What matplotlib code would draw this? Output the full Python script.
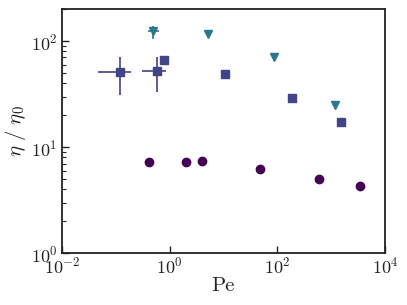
import numpy as np
import matplotlib
matplotlib.use("Agg")
import matplotlib.pyplot as plt
from matplotlib.ticker import NullLocator

plt.rcParams["font.family"] = "serif"
plt.rcParams["font.serif"] = ["cmr10"]
plt.rcParams["mathtext.fontset"] = "cm"
plt.rcParams["axes.formatter.use_mathtext"] = True

# circles
pe_c = [0.41, 2.04, 4.0, 48, 605, 3500]
eta_c = [7.3, 7.3, 7.4, 6.24, 4.95, 4.26]

# squares
pe_s = [0.12, 0.58, 0.79, 10.7, 186, 1535]
eta_s = [51.5, 52.3, 66, 48.7, 29, 17.2]
pe_s_lo = [0.047, 0.31, 0, 0, 0, 0]
pe_s_hi = [0.19, 0.86, 0, 0, 0, 0]
eta_s_lo = [31, 33, 0, 0, 0, 0]
eta_s_hi = [70.8, 70.8, 0, 0, 0, 0]

# triangles
pe_t = [0.50, 5.1, 86, 1200]
eta_t = [124, 116, 70, 24.9]
pe_t_lo = [0.39, 0, 0, 0]
pe_t_hi = [0.63, 0, 0, 0]
eta_t_lo = [104, 0, 0, 0]
eta_t_hi = [140, 0, 0, 0]

cmap = plt.get_cmap("viridis")
c_circ, c_sq, c_tri = cmap(0.0), cmap(0.2), cmap(0.4)


def errs(v, lo, hi):
    v = np.array(v, float)
    lo = np.array(lo, float)
    hi = np.array(hi, float)
    low = np.where(lo > 0, v - lo, 0)
    high = np.where(hi > 0, hi - v, 0)
    return [low, high]


fig = plt.figure(figsize=(4.07, 3.05), dpi=100)
ax = fig.add_axes([0.152, 0.170, 0.794, 0.800])

ax.errorbar(pe_t, eta_t, xerr=errs(pe_t, pe_t_lo, pe_t_hi),
            yerr=errs(eta_t, eta_t_lo, eta_t_hi), fmt="v", color=c_tri,
            ms=6, elinewidth=1.2, capsize=0)
ax.errorbar(pe_s, eta_s, xerr=errs(pe_s, pe_s_lo, pe_s_hi),
            yerr=errs(eta_s, eta_s_lo, eta_s_hi), fmt="s", color=c_sq,
            ms=6, elinewidth=1.2, capsize=0)
ax.plot(pe_c, eta_c, "o", color=c_circ, ms=6)

ax.set_xscale("log")
ax.set_yscale("log")
ax.set_xlim(1e-2, 1e4)
ax.set_ylim(1, 200)
ax.xaxis.set_minor_locator(NullLocator())

ax.tick_params(which="both", direction="in", top=False, right=False,
               labelsize=13, colors="#222222")
ax.tick_params(axis="x", pad=2)
ax.tick_params(axis="y", pad=3)
ax.tick_params(which="major", length=5, width=1)
ax.tick_params(which="minor", length=3, width=0.8)
for s in ax.spines.values():
    s.set_linewidth(1.3)
    s.set_color("#222222")

ax.set_xlabel("Pe", fontsize=15, labelpad=0, color="#222222")
ax.set_ylabel(r"$\eta\ /\ \eta_0$", fontsize=15, labelpad=2, color="#222222")

fig.savefig("out.png", dpi=100)
